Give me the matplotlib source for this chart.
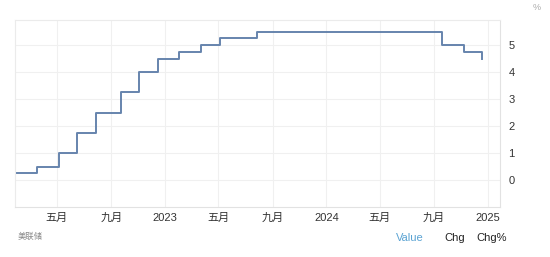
import matplotlib
matplotlib.use("Agg")
import matplotlib.pyplot as plt
import datetime as dt

plt.rcParams['font.family'] = ['Liberation Sans', 'Noto Sans CJK SC', 'DejaVu Sans']

# Data: Fed funds target (upper bound), decision dates
dates = ["2022-01-01", "2022-03-17", "2022-05-05", "2022-06-16", "2022-07-28",
         "2022-09-22", "2022-11-03", "2022-12-15", "2023-02-02", "2023-03-23",
         "2023-05-04", "2023-07-27", "2024-09-19", "2024-11-08", "2024-12-19"]
rates = [0.25, 0.50, 1.00, 1.75, 2.50, 3.25, 4.00, 4.50, 4.75, 5.00,
         5.25, 5.50, 5.00, 4.75, 4.50]

tick_dates = ["2022-05-01", "2022-09-01", "2023-01-01", "2023-05-01", "2023-09-01",
              "2024-01-01", "2024-05-01", "2024-09-01", "2025-01-01"]
tick_labels = ["五月", "九月", "2023", "五月", "九月", "2024", "五月", "九月", "2025"]
y_ticks = [0, 1, 2, 3, 4, 5]

x = [dt.datetime.fromisoformat(d) for d in dates]
xt = [dt.datetime.fromisoformat(d) for d in tick_dates]

fig = plt.figure(figsize=(5.5, 2.57), dpi=100)
ax = fig.add_axes([15/550, 1 - 207/257, (500-15)/550, (207-20)/257])

ax.plot(x, rates, drawstyle='steps-post', color='#6684ad', lw=1.4)

ax.set_xlim(dt.datetime(2022, 1, 26), dt.datetime(2025, 1, 28))
ax.set_ylim(-1, 5.93)

ax.set_xticks(xt)
ax.set_xticklabels(tick_labels)
ax.set_yticks(y_ticks)
ax.yaxis.tick_right()
ax.tick_params(axis='both', length=0, labelsize=8, colors='#333333')
ax.tick_params(axis='x', pad=4)
ax.tick_params(axis='y', pad=6)

ax.grid(True, color='#f0f0f0', lw=0.8)
for s in ax.spines.values():
    s.set_color('#ebebeb')
    s.set_linewidth(0.8)
ax.spines['bottom'].set_color('#e2e2e2')
ax.spines['right'].set_color('#e2e2e2')

fig.text(537/550, 1 - 8/257, "%", fontsize=6.5, color='#aaaaaa', ha='center', va='center')
fig.text(18/550, 1 - 237/257, "美联储", fontsize=6, color='#888888', ha='left', va='center')
fig.text(410/550, 1 - 238/257, "Value", fontsize=8, color='#5aa3d3', ha='center', va='center')
fig.text(455/550, 1 - 238/257, "Chg", fontsize=8, color='#222222', ha='center', va='center')
fig.text(492/550, 1 - 238/257, "Chg%", fontsize=8, color='#222222', ha='center', va='center')

fig.savefig("out.png", dpi=100, facecolor='white')
